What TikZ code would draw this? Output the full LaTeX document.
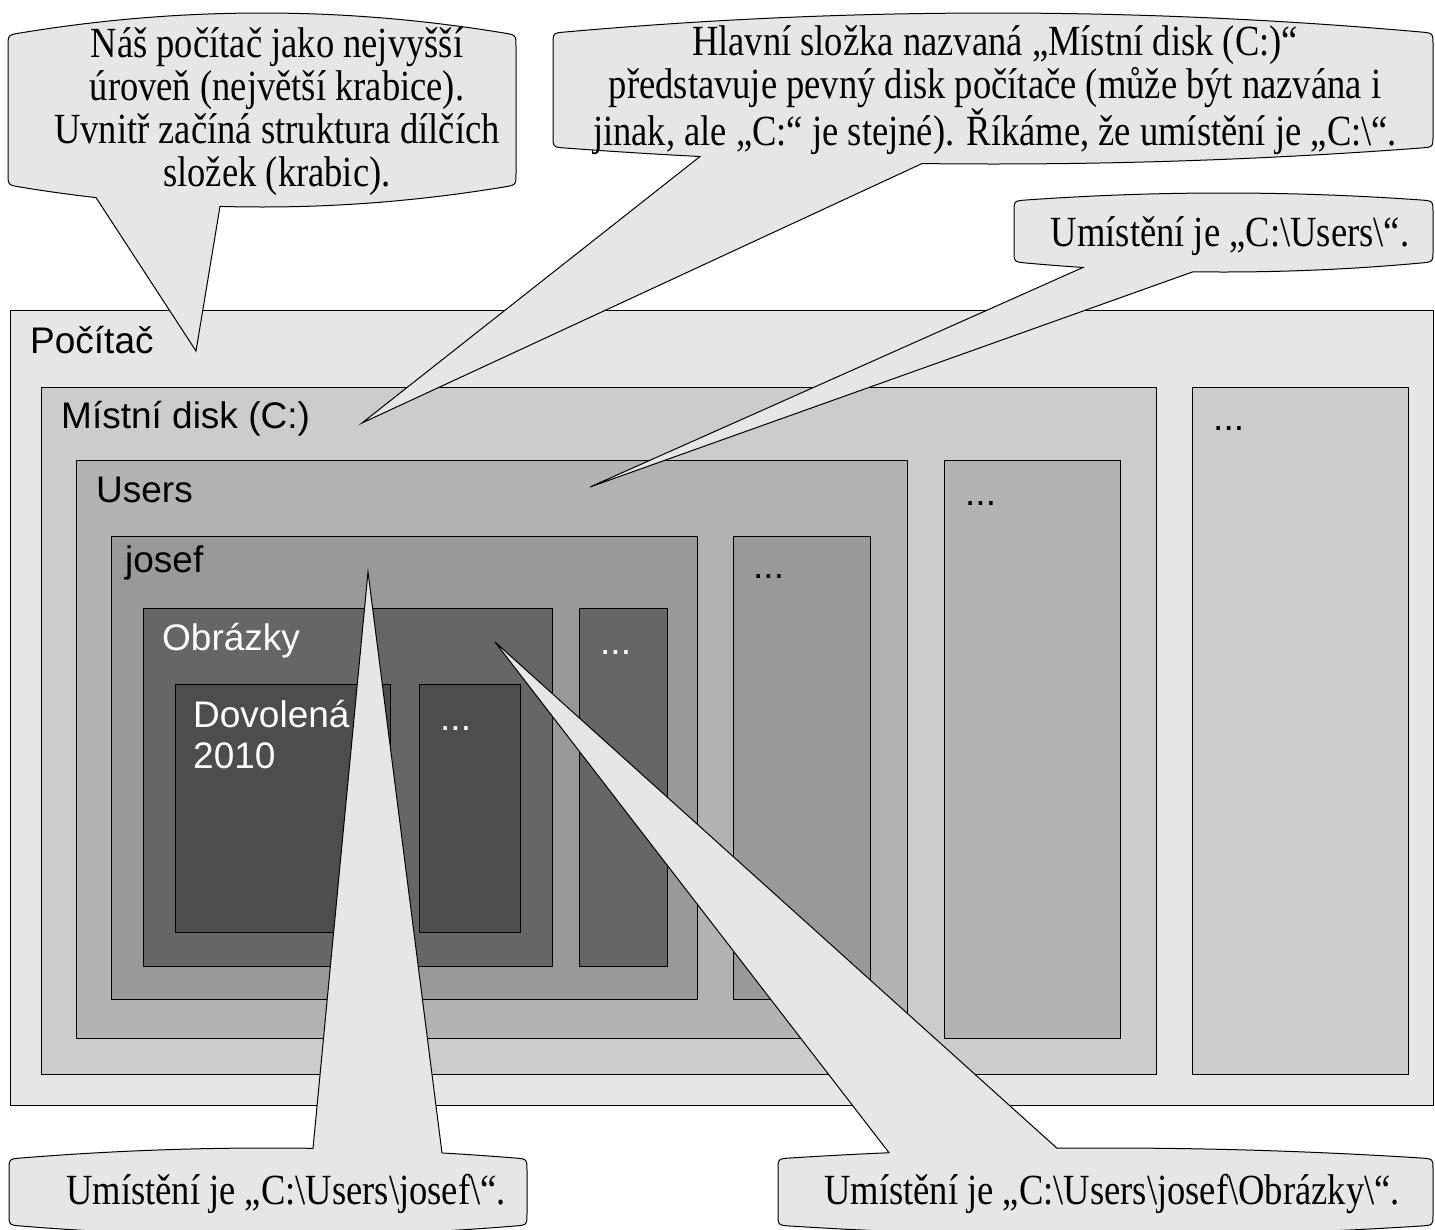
\documentclass[tikz,border=0pt]{standalone}
\usepackage{fontspec}
\setmainfont{Liberation Serif}
\setsansfont{Liberation Sans}
\newfontfamily\notefont[FakeStretch=0.85]{Liberation Serif}
\definecolor{gA}{HTML}{E6E6E6}
\definecolor{gB}{HTML}{CCCCCC}
\definecolor{gC}{HTML}{B3B3B3}
\definecolor{gD}{HTML}{999999}
\definecolor{gE}{HTML}{666666}
\definecolor{gF}{HTML}{4D4D4D}
\def\crad{12}
% #1 x1, #2 x2, #3 yT, #4 yB, #5 top bulge, #6 bottom bulge, #7 tail base left x, #8 tail base right x, #9 tail tip
% callout with tail at the bottom edge
\newcommand\CalloutDown[9]{%
  \path[callout] (#1,{#3+\crad+2*#5*\crad/((#2-#1)/2-\crad)})
    .. controls (#1,{#3+2*#5*\crad/((#2-#1)/2-\crad)}) .. (#1+\crad,#3)
    -- plot[domain=#1+\crad:#2-\crad] (\x,{pb(\x,#1+\crad,#2-\crad,#3,-#5)})
    .. controls (#2,{#3+2*#5*\crad/((#2-#1)/2-\crad)}) .. (#2,{#3+\crad+2*#5*\crad/((#2-#1)/2-\crad)})
    -- (#2,{#4-\crad-2*#6*\crad/((#2-#1)/2-\crad)})
    .. controls (#2,{#4-2*#6*\crad/((#2-#1)/2-\crad)}) .. (#2-\crad,#4)
    -- plot[domain=#2-\crad:#8] (\x,{pb(\x,#1+\crad,#2-\crad,#4,#6)})
    -- (#9)
    -- plot[domain=#7:#1+\crad] (\x,{pb(\x,#1+\crad,#2-\crad,#4,#6)})
    .. controls (#1,{#4-2*#6*\crad/((#2-#1)/2-\crad)}) .. (#1,{#4-\crad-2*#6*\crad/((#2-#1)/2-\crad)})
    -- cycle;}
% callout with tail at the top edge
\newcommand\CalloutUp[9]{%
  \path[callout] (#1,{#4-\crad-2*#6*\crad/((#2-#1)/2-\crad)})
    -- (#1,{#3+\crad+2*#5*\crad/((#2-#1)/2-\crad)})
    .. controls (#1,{#3+2*#5*\crad/((#2-#1)/2-\crad)}) .. (#1+\crad,#3)
    -- plot[domain=#1+\crad:#7] (\x,{pb(\x,#1+\crad,#2-\crad,#3,-#5)})
    -- (#9)
    -- plot[domain=#8:#2-\crad] (\x,{pb(\x,#1+\crad,#2-\crad,#3,-#5)})
    .. controls (#2,{#3+2*#5*\crad/((#2-#1)/2-\crad)}) .. (#2,{#3+\crad+2*#5*\crad/((#2-#1)/2-\crad)})
    -- (#2,{#4-\crad-2*#6*\crad/((#2-#1)/2-\crad)})
    .. controls (#2,{#4-2*#6*\crad/((#2-#1)/2-\crad)}) .. (#2-\crad,#4)
    -- plot[domain=#2-\crad:#1+\crad] (\x,{pb(\x,#1+\crad,#2-\crad,#4,#6)})
    .. controls (#1,{#4-2*#6*\crad/((#2-#1)/2-\crad)}) .. (#1,{#4-\crad-2*#6*\crad/((#2-#1)/2-\crad)})
    -- cycle;}
\begin{document}
\begin{tikzpicture}[x=1pt,y=-1pt,
  declare function={pb(\x,\ua,\ub,\ue,\ud)=\ue+\ud*(1-((2*\x-\ua-\ub)/(\ub-\ua))^2);},
  box/.style={draw=black, line width=1pt},
  lbl/.style={font=\sffamily\fontsize{37}{41}\selectfont, anchor=base west, inner sep=0pt},
  note/.style={font=\notefont\fontsize{43}{43}\selectfont, align=center, inner sep=0pt},
  callout/.style={fill=gA, draw=black, line width=1pt, line join=miter, samples=40}]
\useasboundingbox (0,0) rectangle (1435,1229);
\fill[white] (0,0) rectangle (1435,1229);

% folder boxes
\draw[box, fill=gA] (10,310) rectangle (1433,1105);
\draw[box, fill=gB] (41,387) rectangle (1156,1074);
\draw[box, fill=gB] (1192,387) rectangle (1408,1074);
\draw[box, fill=gC] (76,460) rectangle (907,1038);
\draw[box, fill=gC] (944,460) rectangle (1120,1038);
\draw[box, fill=gD] (111,536) rectangle (697,999);
\draw[box, fill=gD] (733,536) rectangle (870,999);
\draw[box, fill=gE] (143,608) rectangle (552,966);
\draw[box, fill=gE] (579,608) rectangle (667,966);
\draw[box, fill=gF] (175,684) rectangle (390,932);
\draw[box, fill=gF] (419,684) rectangle (520,932);

% folder labels
\node[lbl] (pc) at (30,353) {Počítač};
\node[lbl] (md) at (61,428) {Místní disk (C:)};
\node[lbl] (us) at (96,502) {Users};
\node[lbl] (jo) at (125,572) {josef};
\node[lbl, text=white] (ob) at (162,650) {Obrázky};
\node[lbl, text=white] (dv1) at (193,727) {Dovolená};
\node[lbl, text=white] (dv2) at (193,768) {2010};
\node[lbl] (e1) at (1213,430) {...};
\node[lbl] (e2) at (965,505) {...};
\node[lbl] (e3) at (753,578) {...};
\node[lbl, text=white] (e4) at (600,654) {...};
\node[lbl, text=white] (e5) at (440,730) {...};

% callout tips
\coordinate (t1) at (196,351);
\coordinate (t2) at (362,423);
\coordinate (t3) at (590,487);
\coordinate (t4) at (368,572);
\coordinate (t5) at (495,642);

% callouts
\CalloutDown{8}{516}{33}{187}{20}{20}{96}{220}{t1}
\CalloutDown{553}{1433}{32}{148}{19}{16}{700}{922}{t2}
\CalloutDown{1014}{1433}{200}{263}{7}{9}{1083}{1193}{t3}
\CalloutUp{9}{527}{1158}{1226}{10}{10}{313}{442}{t4}
\CalloutUp{778}{1433}{1158}{1226}{10}{10}{889}{1057}{t5}

% callout texts
\node[note] (n1) at (277,112) {Náš počítač jako nejvyšší\\úroveň (největší krabice).\\Uvnitř začíná struktura dílčích\\složek (krabic).};
\node[note] (n2) at (995,90) {Hlavní složka nazvaná „Místní disk (C:)“\\představuje pevný disk počítače (může být nazvána i\\jinak, ale „C:“ je stejné). Říkáme, že umístění je „C:\textbackslash“.};
\node[note, anchor=base] (n3) at (1230,246) {Umístění je „C:\textbackslash Users\textbackslash“.};
\node[note, anchor=base] (n4) at (286,1204) {Umístění je „C:\textbackslash Users\textbackslash josef\textbackslash“.};
\node[note, anchor=base] (n5) at (1112,1204) {Umístění je „C:\textbackslash Users\textbackslash josef\textbackslash Obrázky\textbackslash“.};
\end{tikzpicture}
\end{document}
